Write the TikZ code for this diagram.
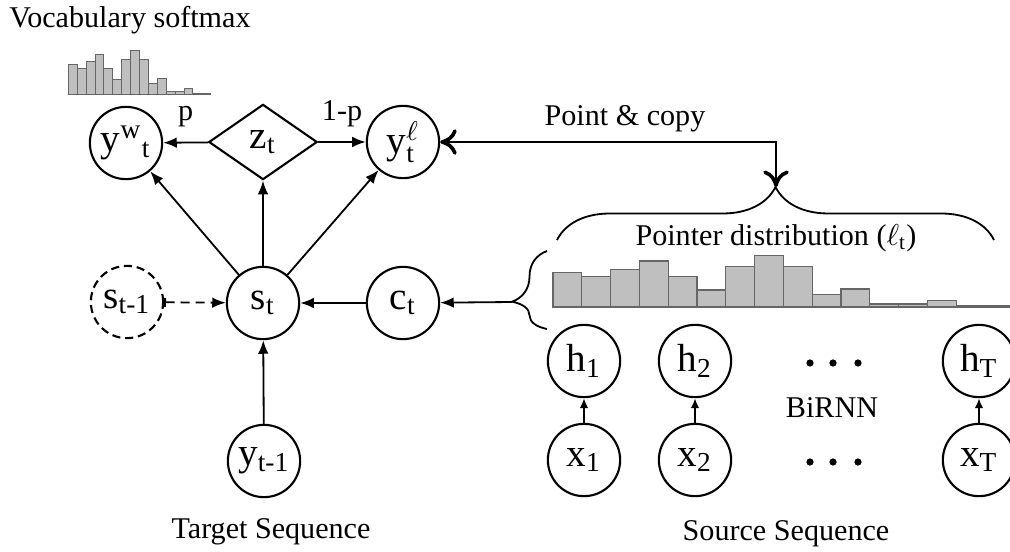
\documentclass[tikz,border=0pt]{standalone}
\usepackage{fontspec}
\setmainfont{Liberation Serif}
\usepackage{amsmath}
\usetikzlibrary{shapes.geometric,arrows.meta,decorations.pathreplacing}

\newcommand{\pointerdist}{34.3,30.3,37.7,46,30.3,17,40.3,51.3,40.3,12.7,18,3,3,6.3,1,1}

\begin{document}
\begin{tikzpicture}[x=0.332pt,y=-0.332pt,
		vertex/.style={circle,draw,line width=0.7pt,minimum size=24pt,inner sep=0pt,font=\fontsize{13}{15}\selectfont},
		gate/.style={diamond,draw,line width=0.7pt,minimum width=36pt,minimum height=25pt,inner sep=0pt,font=\fontsize{13}{15}\selectfont},
		link/.style={line width=0.6pt,-{Latex[length=4.5pt,width=3.5pt]}},
		shortlink/.style={line width=0.6pt,-{Latex[length=3.3pt,width=2.8pt]}},
		histbar/.style={fill=black!25,draw=black!60,line width=0.4pt},
		pointcopy/.style={line width=0.5pt,{To[length=5.5pt,width=8.5pt,line width=1.2pt]}-{To[length=5.5pt,width=8.5pt,line width=1.2pt]}}]
		 %\draw[help lines] (0,0) grid[step=50] (1010,552);
		 \useasboundingbox (0,0) rectangle (1010,552);

		 \node[anchor=base] (vocab) at (130,28) {Vocabulary softmax};
		 \foreach \v [count=\i from 0] in \pointerdist
		 	\draw[histbar,line width=0.3pt] (68.3+8.9*\i,94.3) rectangle ++(8.9,-0.86*\v);

		 \node[vertex] (yw) at (126,143) {y\textsuperscript{w}\textsubscript{t}};
		 \node[gate] (z) at (263,142) {z\textsubscript{t}};
		 \node[vertex] (yl) at (403,142) {y$^{\ell}_{\text{t}}$};

		 \node[vertex,dash pattern=on 2.7pt off 1.6pt] (sp) at (127,302) {s\textsubscript{t-1}};
		 \node[vertex] (s) at (263,303) {s\textsubscript{t}};
		 \node[vertex] (c) at (403,303) {c\textsubscript{t}};
		 \node[vertex] (yp) at (264,461) {y\textsubscript{t-1}};
		 \node[anchor=base] (target) at (271,538) {Target Sequence};

		 \draw[link] (z) -- node[midway,above=1.5pt] {p} (yw);
		 \draw[link] (z) -- node[midway,above=1.5pt] {1-p} (yl);
		 \draw[link] (s) -- (yw);
		 \draw[link] (s) -- (z);
		 \draw[link] (s) -- (yl);
		 \draw[link,densely dashed,{Bar[width=3pt]}-{Latex[length=4.5pt,width=3.5pt]}] (sp) -- (s);
		 \draw[link] (c) -- (s);
		 \draw[link] (yp) -- (s);

		 % source side
		 \foreach \n/\x in {1/584,2/695,T/979} {
		 	\node[vertex] (h\n) at (\x,361) {h\textsubscript{\n}};
		 	\node[vertex] (x\n) at (\x,460) {x\textsubscript{\n}};
		 	\draw[shortlink] (x\n) -- (h\n);
		 }
		 \foreach \x in {810,833,858} {
		 	\fill (\x,363) circle (1.2pt);
		 	\fill (\x,462) circle (1.2pt);
		 }
		 \node[anchor=base] (birnn) at (832,417) {BiRNN};
		 \node[anchor=base] (source) at (786,540) {Source Sequence};

		 \foreach \v [count=\i from 0] in \pointerdist
		 	\draw[histbar] (553+28.8*\i,307) rectangle ++(28.8,-\v);
		 \node[anchor=base] (pdist) at (776,245) {Pointer distribution ($\ell_{\text{t}}$)};

		 \draw[line width=0.6pt,decorate,decoration={brace,amplitude=17.6pt}] (557,240) -- (994,240);
		 \coordinate (ptip) at (776,187);
		 \draw[line width=0.6pt,decorate,decoration={brace,amplitude=11.6pt,aspect=0.35}] (547,329) -- (547,251);
		 \coordinate (ltip) at (512,302);

		 \draw[pointcopy] (yl) -| (ptip);
		 \node[anchor=base] (copy) at (625,126) {Point \& copy};
		 \draw[link] (ltip) -- (c);
\end{tikzpicture}
\end{document}
